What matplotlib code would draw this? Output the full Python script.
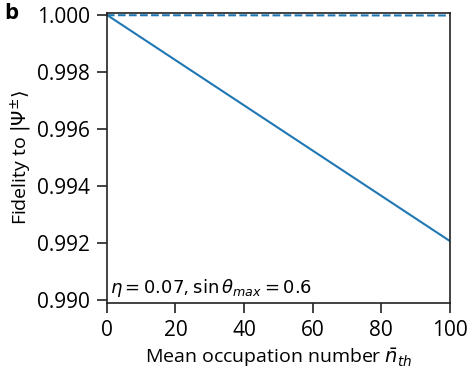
import numpy as np
import matplotlib
matplotlib.use("Agg")
from matplotlib import pyplot as plt

# data
n_th = [0, 100]
fid_solid = [1.0, 0.99207]
fid_dashed = [0.99999, 0.99998]
x_ticks = [0, 20, 40, 60, 80, 100]
y_ticks = [0.990, 0.992, 0.994, 0.996, 0.998, 1.000]

plt.rcParams['font.family'] = ['Open Sans', 'DejaVu Sans']
plt.rcParams['mathtext.fontset'] = 'dejavusans'

fig = plt.figure(figsize=(4.75, 3.8), dpi=100)
ax = fig.add_axes([0.225, 0.203, 0.722, 0.763])

color = '#1f77b4'
ax.plot(n_th, fid_solid, color=color, lw=1.5)
ax.plot(n_th, fid_dashed, color=color, lw=1.5, ls='--')

ax.set_xlim(0, 100)
ax.set_ylim(0.9899, 1.00007)
ax.set_xticks(x_ticks)
ax.set_yticks(y_ticks)
ax.set_yticklabels(['%.3f' % v for v in y_ticks])
ax.tick_params(labelsize=15, length=7, width=1.2, color='#222222', pad=5)
for s in ax.spines.values():
    s.set_linewidth(1.2)
    s.set_color('#222222')

ax.set_xlabel(r'Mean occupation number $\bar{n}_{th}$', fontsize=14, labelpad=4)
ax.set_ylabel(r'Fidelity to $|\Psi^{\pm}\rangle$', fontsize=14, labelpad=2)

ax.text(0.01, 0.015, r'$\eta = 0.07$, $\sin\theta_{max} = 0.6$', transform=ax.transAxes,
        fontsize=13, ha='left', va='bottom')
fig.text(0.008, 0.965, 'b', fontsize=16, fontweight='bold', va='center')

plt.savefig('out.png', dpi=100)
